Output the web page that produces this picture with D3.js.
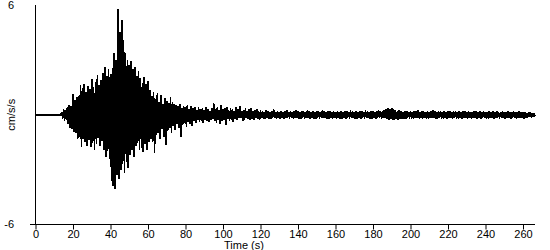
<!DOCTYPE html>
<html>
<head>
<meta charset="utf-8">
<script src="https://cdn.jsdelivr.net/npm/d3@7"></script>
<style>
  body { margin: 0; background: #fff; }
  svg { display: block; }
  text { font-family: "Liberation Sans", Arial, sans-serif; font-size: 11px; fill: #000; }
</style>
</head>
<body>
<svg id="chart"></svg>
<script>
var width = 550;
var height = 250;

// sampling step of the record (s), one peak and one trough per step
var dt = 1;

// upper peaks per second, cm/s/s, t = 0..266
var peaksHi = [
  0, 0, 0, 0, 0, 0, 0, 0, 0, 0,
  0, 0, 0, 0, 0.15, 0.3, 0.25, 0.4, 0.55, 0.5,
  1.15, 0.8, 0.95, 1.0, 1.6, 1.45, 1.7, 1.25, 1.55, 1.4,
  1.95, 1.5, 1.8, 2.15, 1.6, 1.9, 2.3, 2.6, 2.1, 2.5,
  2.2, 2.55, 3.4, 3.0, 5.8, 4.5, 5.2, 4.1, 3.4, 3.0,
  2.7, 2.95, 2.5, 2.6, 2.1, 2.4, 2.0, 1.75, 2.05, 1.7,
  1.85, 1.35, 1.0, 1.25, 0.85, 1.2, 0.7, 1.1, 0.6, 0.9,
  0.75, 0.65, 0.95, 0.7, 0.6, 0.55, 0.45, 0.6, 0.35, 0.5,
  0.4, 0.55, 0.3, 0.45, 0.35, 0.4, 0.25, 0.4, 0.3, 0.35,
  0.25, 0.4, 0.3, 0.2, 0.35, 0.65, 0.3, 0.4, 0.25, 0.55,
  0.3, 0.35, 0.4, 0.25, 0.35, 0.3, 0.2, 0.4, 0.3, 0.45,
  0.2, 0.25, 0.35, 0.2, 0.3, 0.35, 0.2, 0.25, 0.3, 0.2,
  0.25, 0.2, 0.15, 0.25, 0.2, 0.15, 0.2, 0.3, 0.15, 0.2,
  0.15, 0.2, 0.15, 0.2, 0.25, 0.15, 0.2, 0.15, 0.2, 0.25,
  0.2, 0.15, 0.2, 0.2, 0.15, 0.25, 0.2, 0.15, 0.2, 0.15,
  0.2, 0.2, 0.15, 0.25, 0.2, 0.15, 0.2, 0.2, 0.15, 0.2,
  0.15, 0.2, 0.15, 0.2, 0.15, 0.2, 0.2, 0.15, 0.25, 0.2,
  0.15, 0.2, 0.15, 0.2, 0.2, 0.15, 0.25, 0.2, 0.15, 0.2,
  0.2, 0.15, 0.2, 0.25, 0.2, 0.2, 0.25, 0.3, 0.35, 0.3,
  0.35, 0.3, 0.25, 0.2, 0.25, 0.2, 0.15, 0.2, 0.2, 0.15,
  0.2, 0.15, 0.2, 0.2, 0.25, 0.15, 0.2, 0.2, 0.15, 0.2,
  0.15, 0.2, 0.25, 0.2, 0.15, 0.2, 0.2, 0.15, 0.2, 0.15,
  0.2, 0.2, 0.15, 0.2, 0.2, 0.15, 0.2, 0.15, 0.2, 0.2,
  0.15, 0.2, 0.15, 0.15, 0.2, 0.2, 0.15, 0.2, 0.15, 0.2,
  0.15, 0.15, 0.2, 0.15, 0.2, 0.15, 0.2, 0.15, 0.15, 0.2,
  0.15, 0.15, 0.2, 0.15, 0.15, 0.2, 0.15, 0.15, 0.2, 0.15,
  0.15, 0.15, 0.1, 0.15, 0.15, 0.1, 0.1
];

// lower troughs per second, cm/s/s, t = 0.5..266.5
var peaksLo = [
  0, 0, 0, 0, 0, 0, 0, 0, 0, 0,
  0, 0, 0, 0, -0.2, -0.35, -0.3, -0.5, -0.7, -0.8,
  -0.95, -1.0, -1.35, -1.2, -1.75, -1.3, -1.5, -1.7, -1.4, -1.75,
  -1.55, -1.9, -1.6, -1.25, -1.7, -1.45, -1.95, -2.3, -2.0, -2.4,
  -3.6, -3.9, -4.05, -3.3, -3.5, -3.0, -2.7, -3.2, -2.6, -2.9,
  -2.2, -1.9, -2.3, -1.7, -1.55, -1.9, -1.8, -2.05, -1.6, -1.9,
  -1.5, -1.3, -1.5, -2.1, -1.1, -1.0, -1.35, -0.8, -1.2, -1.65,
  -0.9, -0.7, -1.0, -0.6, -0.85, -0.5, -0.7, -1.2, -0.55, -0.45,
  -0.65, -0.4, -0.5, -0.6, -0.35, -0.45, -0.3, -0.4, -0.35, -0.45,
  -0.3, -0.35, -0.4, -0.3, -0.25, -0.35, -0.45, -0.3, -0.5, -0.35,
  -0.3, -0.55, -0.25, -0.35, -0.3, -0.4, -0.25, -0.3, -0.2, -0.15,
  -0.35, -0.3, -0.2, -0.25, -0.3, -0.25, -0.3, -0.2, -0.25, -0.3,
  -0.2, -0.2, -0.25, -0.15, -0.2, -0.2, -0.15, -0.2, -0.25, -0.15,
  -0.2, -0.15, -0.2, -0.2, -0.15, -0.2, -0.15, -0.2, -0.2, -0.15,
  -0.2, -0.2, -0.15, -0.2, -0.2, -0.15, -0.2, -0.15, -0.2, -0.2,
  -0.15, -0.2, -0.15, -0.2, -0.15, -0.2, -0.2, -0.15, -0.2, -0.15,
  -0.2, -0.15, -0.2, -0.2, -0.15, -0.2, -0.15, -0.2, -0.2, -0.15,
  -0.2, -0.2, -0.15, -0.2, -0.15, -0.2, -0.2, -0.15, -0.2, -0.2,
  -0.15, -0.2, -0.15, -0.2, -0.2, -0.15, -0.2, -0.25, -0.3, -0.25,
  -0.3, -0.3, -0.25, -0.3, -0.25, -0.2, -0.25, -0.2, -0.15, -0.2,
  -0.2, -0.2, -0.15, -0.2, -0.2, -0.15, -0.2, -0.15, -0.2, -0.2,
  -0.15, -0.2, -0.15, -0.2, -0.2, -0.15, -0.2, -0.2, -0.15, -0.2,
  -0.15, -0.15, -0.2, -0.15, -0.2, -0.2, -0.15, -0.2, -0.15, -0.15,
  -0.2, -0.15, -0.2, -0.15, -0.15, -0.2, -0.15, -0.2, -0.15, -0.15,
  -0.2, -0.2, -0.15, -0.15, -0.2, -0.15, -0.15, -0.2, -0.15, -0.15,
  -0.2, -0.15, -0.15, -0.2, -0.15, -0.15, -0.2, -0.15, -0.15, -0.15,
  -0.2, -0.15, -0.15, -0.1, -0.15, -0.1, -0.1
];

var xTicks = [0, 20, 40, 60, 80, 100, 120, 140, 160, 180, 200, 220, 240, 260];
var yTicks = [-6, 6];
var xTitle = 'Time (s)';
var yTitle = 'cm/s/s';

// trace: peak then trough for every second of record
var trace = [];
peaksHi.forEach(function(v, i) {
	trace.push({t: i * dt, v: v});
	trace.push({t: i * dt + dt / 2, v: peaksLo[i]});
});

var svg = d3.select('#chart')
	.attr('width', width)
	.attr('height', height);

var x = d3.scaleLinear()
	.domain([0, 266.4])
	.range([35.5, 535]);

var y = d3.scaleLinear()
	.domain([-6, 6])
	.range([224.5, 5]);

// waveform
svg.append('path')
	.datum(trace)
	.attr('fill', 'none')
	.attr('stroke', '#000')
	.attr('stroke-width', 1.6)
	.attr('stroke-linejoin', 'miter')
	.attr('shape-rendering', 'crispEdges')
	.attr('d', d3.line()
		.x(function(d) { return x(d.t); })
		.y(function(d) { return y(d.v); }));

// x axis
var xAxis = d3.axisBottom(x)
	.tickValues(xTicks)
	.tickSize(5)
	.tickSizeOuter(0)
	.tickPadding(1);

var gx = svg.append('g')
	.attr('transform', 'translate(0,' + y(-6) + ')')
	.call(xAxis);
gx.select('.domain').remove();
gx.append('line')
	.attr('x1', 30).attr('x2', 535)
	.attr('stroke', '#000');
gx.selectAll('text')
	.attr('fill', '#000')
	.style('font-family', '"Liberation Sans", Arial, sans-serif')
	.style('font-size', '11px');
gx.selectAll('.tick line').attr('stroke', '#000');

// y axis: bare line with end labels
svg.append('line')
	.attr('x1', x(0)).attr('x2', x(0))
	.attr('y1', y(6)).attr('y2', y(-6))
	.attr('stroke', '#000');

svg.selectAll('.ylab')
	.data(yTicks)
	.enter().append('text')
	.attr('class', 'ylab')
	.attr('x', 14)
	.attr('y', function(d) { return y(d); })
	.attr('dy', '0.35em')
	.attr('text-anchor', 'end')
	.text(function(d) { return d; });

svg.append('text')
	.attr('transform', 'translate(15,' + y(0) + ') rotate(-90)')
	.attr('text-anchor', 'middle')
	.text(yTitle);

svg.append('text')
	.attr('x', 244)
	.attr('y', 249)
	.attr('text-anchor', 'middle')
	.text(xTitle);
</script>
</body>
</html>
